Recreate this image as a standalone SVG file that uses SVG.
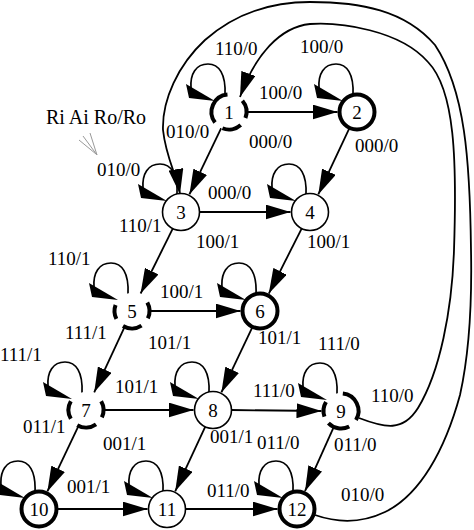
<svg xmlns="http://www.w3.org/2000/svg" width="474" height="530" viewBox="0 0 474 530">
<style>
.e{fill:none;stroke:#000;stroke-width:1.8;marker-end:url(#ah)}
.bg{fill:#fff;stroke:none}
.plain{fill:#fff;stroke:#000;stroke-width:1.6}
.bold{fill:#fff;stroke:#000;stroke-width:4}
.dash{fill:none;stroke:#000;stroke-width:4}
.num{font-family:"Liberation Serif","Times New Roman",serif;font-size:19px;text-anchor:middle;fill:#000}
.lbl{font-family:"Liberation Serif","Times New Roman",serif;font-size:19px;fill:#000}
.leg{font-family:"Liberation Serif","Times New Roman",serif;font-size:20px;fill:#000}
.ptr{stroke:#999;stroke-width:1;fill:none}
</style>
<defs>
<marker id="ah" markerUnits="userSpaceOnUse" markerWidth="25" markerHeight="15" viewBox="0 0 25 15" refX="25" refY="7.5" orient="auto"><path d="M0,0 L25,7.5 L0,15 z" fill="#000"/></marker>
<g id="loop"><path d="M-4,-17 C-3,-38 -10,-48 -21,-48 C-33,-48 -39,-38 -38,-24" fill="none" stroke="#000" stroke-width="1.7"/><polygon points="-43,-28 -40,-14 -14,-11" fill="#000" stroke="none"/></g>
</defs>
<rect width="474" height="530" fill="#fff"/>
<g id="connectors">
<line class="e" x1="247" y1="112" x2="337.5" y2="112"/>
<line class="e" x1="199" y1="212" x2="290.5" y2="212"/>
<line class="e" x1="150" y1="311" x2="240.5" y2="311"/>
<line class="e" x1="104" y1="410" x2="193.5" y2="410"/>
<line class="e" x1="231" y1="410" x2="321.5" y2="411"/>
<line class="e" x1="57" y1="509" x2="147.5" y2="509"/>
<line class="e" x1="185" y1="509" x2="277.5" y2="509"/>
<line class="e" x1="221.2" y1="128.2" x2="189.4" y2="194.4"/>
<line class="e" x1="349.3" y1="128.3" x2="318.3" y2="194.4"/>
<line class="e" x1="173" y1="228.1" x2="140.6" y2="293.5"/>
<line class="e" x1="301.9" y1="228.1" x2="268.8" y2="293.6"/>
<line class="e" x1="124.4" y1="327.3" x2="94.2" y2="392.3"/>
<line class="e" x1="252.3" y1="327.3" x2="221.4" y2="392.4"/>
<line class="e" x1="78.3" y1="426.3" x2="47.4" y2="491.4"/>
<line class="e" x1="205.4" y1="426.3" x2="175.2" y2="491.3"/>
<line class="e" x1="333.6" y1="427.4" x2="305" y2="491.2"/>
<path class="e" d="M359,418 C385,428 403,432 418,408 C440,372 452,310 454,250 C457,160 455,90 428,62 C400,30 340,22 310,24 C280,27 255,55 240,97"/>
<path class="e" d="M315,515 C335,522 360,524 385,512 C420,495 445,450 460,395 C470,350 472,300 471,250 C470,160 465,90 435,45 C405,10 360,2 310,2 C265,2 230,18 205,40 C178,65 162,100 163,130 C166,158 177,176 180,194"/>
<use href="#loop" x="229" y="112"/>
<use href="#loop" x="357" y="112"/>
<use href="#loop" x="181" y="212"/>
<use href="#loop" x="310" y="212"/>
<use href="#loop" x="132" y="311"/>
<use href="#loop" x="260" y="311"/>
<use href="#loop" x="86" y="410"/>
<use href="#loop" x="213" y="410"/>
<use href="#loop" x="341" y="411"/>
<use href="#loop" x="39" y="509"/>
<use href="#loop" x="167" y="509"/>
<use href="#loop" x="297" y="509"/>
</g>
<g id="n1" transform="translate(229,112)"><circle class="bg" r="18"/><path class="dash" d="M-13.98,10.53 A17.5,17.5 0 0 1 -1.53,-17.43 M13.41,-11.25 A17.5,17.5 0 0 1 16.44,5.99 M11.71,13 A17.5,17.5 0 0 1 -6.56,16.23"/><text class="num" y="6.5">1</text></g>
<g id="n2" transform="translate(357,112)"><circle class="bold" r="17.5"/><text class="num" y="6.5">2</text></g>
<g id="n3" transform="translate(181,212)"><circle class="plain" r="18.5"/><text class="num" y="6.5">3</text></g>
<g id="n4" transform="translate(310,212)"><circle class="plain" r="18.5"/><text class="num" y="6.5">4</text></g>
<g id="n5" transform="translate(132,311)"><circle class="bg" r="18"/><path class="dash" d="M-15.59,7.94 A17.5,17.5 0 0 1 -16.44,-5.99 M15.31,-8.48 A17.5,17.5 0 0 1 15.86,7.4 M9.53,14.68 A17.5,17.5 0 0 1 -9.01,15"/><text class="num" y="6.5">5</text></g>
<g id="n6" transform="translate(260,311)"><circle class="bold" r="17.5"/><text class="num" y="6.5">6</text></g>
<g id="n7" transform="translate(86,410)"><circle class="bg" r="18"/><path class="dash" d="M-15.16,8.75 A17.5,17.5 0 0 1 -15.16,-8.75 M15.16,-8.75 A17.5,17.5 0 0 1 15.86,7.4 M10.04,14.33 A17.5,17.5 0 0 1 -8.75,15.16"/><text class="num" y="6.5">7</text></g>
<g id="n8" transform="translate(213,410)"><circle class="plain" r="18.5"/><text class="num" y="6.5">8</text></g>
<g id="n9" transform="translate(341,411)"><circle class="bg" r="18"/><path class="dash" d="M-16.55,5.7 A17.5,17.5 0 0 1 -15,-9.01 M1.83,-17.4 A17.5,17.5 0 0 1 15,9.01 M8.22,15.45 A17.5,17.5 0 0 1 -12.59,12.16"/><text class="num" y="6.5">9</text></g>
<g id="n10" transform="translate(39,509)"><circle class="bold" r="17.5"/><text class="num" y="6.5">10</text></g>
<g id="n11" transform="translate(167,509)"><circle class="plain" r="18.5"/><text class="num" y="6.5">11</text></g>
<g id="n12" transform="translate(297,509)"><circle class="bold" r="17.5"/><text class="num" y="6.5">12</text></g>
<g id="legend">
<text class="leg" x="46" y="124">Ri Ai Ro/Ro</text>
<path class="ptr" d="M79,140 L96,154 M83,136 L97,155 M90,133 L97,155"/>
</g>
<g id="labels">
<text class="lbl" x="215" y="55">110/0</text>
<text class="lbl" x="300" y="53">100/0</text>
<text class="lbl" x="259" y="99">100/0</text>
<text class="lbl" x="166" y="138">010/0</text>
<text class="lbl" x="249" y="148">000/0</text>
<text class="lbl" x="355" y="152">000/0</text>
<text class="lbl" x="97" y="176">010/0</text>
<text class="lbl" x="208" y="199">000/0</text>
<text class="lbl" x="119" y="232">110/1</text>
<text class="lbl" x="196" y="248">100/1</text>
<text class="lbl" x="307" y="248">100/1</text>
<text class="lbl" x="48" y="265">110/1</text>
<text class="lbl" x="160" y="298">100/1</text>
<text class="lbl" x="65" y="339">111/1</text>
<text class="lbl" x="148" y="349">101/1</text>
<text class="lbl" x="258" y="344">101/1</text>
<text class="lbl" x="318" y="350">111/0</text>
<text class="lbl" x="0" y="361">111/1</text>
<text class="lbl" x="115" y="393">101/1</text>
<text class="lbl" x="253" y="397">111/0</text>
<text class="lbl" x="371" y="402">110/0</text>
<text class="lbl" x="23" y="433">011/1</text>
<text class="lbl" x="103" y="450">001/1</text>
<text class="lbl" x="210" y="443">001/1</text>
<text class="lbl" x="257" y="449">011/0</text>
<text class="lbl" x="334" y="451">011/0</text>
<text class="lbl" x="67" y="493">001/1</text>
<text class="lbl" x="207" y="497">011/0</text>
<text class="lbl" x="341" y="501">010/0</text>
</g>
</svg>
